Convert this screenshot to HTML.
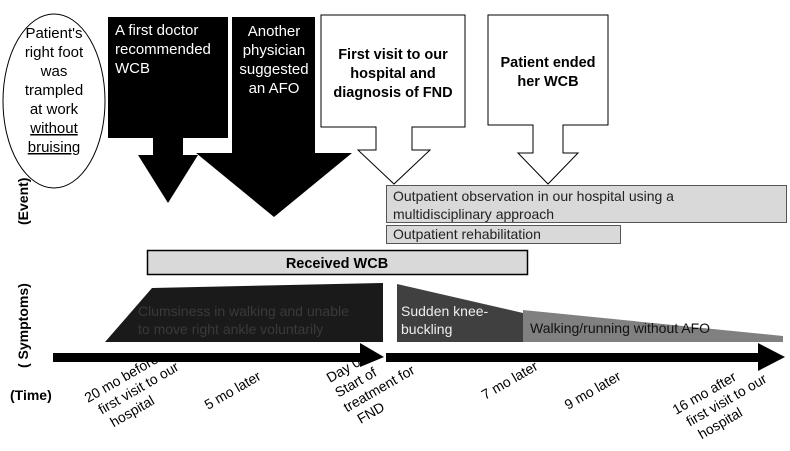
<!DOCTYPE html>
<html><head><meta charset="utf-8"><style>
body{margin:0;background:#fff}
svg{display:block;font-family:"Liberation Sans","Noto Sans CJK JP",sans-serif}
</style></head><body>
<svg width="790" height="451" viewBox="0 0 790 451" xmlns="http://www.w3.org/2000/svg">
<!-- ellipse -->
<ellipse cx="54" cy="101" rx="51" ry="87" fill="#fff" stroke="#000" stroke-width="1"/>
<g font-size="15" text-anchor="middle" fill="#000">
<text x="54" y="38">Patient's</text>
<text x="54" y="57">right foot</text>
<text x="54" y="76">was</text>
<text x="54" y="95">trampled</text>
<text x="54" y="114">at work</text>
<text x="54" y="133" text-decoration="underline">without</text>
<text x="54" y="152" text-decoration="underline">bruising</text>
</g>
<!-- black arrow 1 -->
<polygon points="108,17 228,17 228,138 183,138 183,155 198,155 168,203 138,155 153,155 153,138 108,138" fill="#000"/>
<g font-size="15" fill="#fff">
<text x="115" y="35">A first doctor</text>
<text x="115" y="54">recommended</text>
<text x="115" y="73">WCB</text>
</g>
<!-- black arrow 2 -->
<polygon points="232,17 315,17 315,153 352,153 274,217 196,153 232,153" fill="#000"/>
<g font-size="15" fill="#fff" text-anchor="middle">
<text x="274" y="36">Another</text>
<text x="274" y="55">physician</text>
<text x="274" y="74">suggested</text>
<text x="274" y="93">an AFO</text>
</g>
<!-- callout 1 -->
<polygon points="321,15 465,15 465,127 412,127 412,150 430,150 394,184 358,150 376,150 376,127 321,127" fill="#fff" stroke="#000" stroke-width="1"/>
<g font-size="14.5" font-weight="bold" text-anchor="middle">
<text x="393" y="59">First visit to our</text>
<text x="393" y="78">hospital and</text>
<text x="393" y="97">diagnosis of FND</text>
</g>
<!-- callout 2 -->
<polygon points="488,15 608,15 608,125 563,125 563,153 578,153 548,184 518,153 533,153 533,125 488,125" fill="#fff" stroke="#000" stroke-width="1"/>
<g font-size="14.5" font-weight="bold" text-anchor="middle">
<text x="548" y="67">Patient ended</text>
<text x="548" y="86">her WCB</text>
</g>
<!-- outpatient boxes -->
<rect x="386.5" y="185.5" width="400" height="37" fill="#d9d9d9" stroke="#555" stroke-width="1"/>
<text x="393" y="201" font-size="14" fill="#222">Outpatient observation in our hospital using a</text>
<text x="393" y="219" font-size="14" fill="#222">multidisciplinary approach</text>
<rect x="386.5" y="225.5" width="234" height="18" fill="#d9d9d9" stroke="#555" stroke-width="1"/>
<text x="393" y="239" font-size="14" fill="#222">Outpatient rehabilitation</text>
<!-- received WCB -->
<rect x="147.5" y="250.5" width="380" height="24" fill="#d9d9d9" stroke="#000" stroke-width="1.5"/>
<text x="337" y="268" font-size="14.5" font-weight="bold" text-anchor="middle">Received WCB</text>
<!-- symptoms -->
<polygon points="105,342 152,288 383,283 383,342" fill="#1a1a1a"/>
<g font-size="14" fill="#3a3a3a">
<text x="138" y="316">Clumsiness in walking and unable</text>
<text x="138" y="334">to move right ankle voluntarily</text>
</g>
<polygon points="397,284 523,313 523,342 397,342" fill="#404040"/>
<g font-size="14" fill="#eee">
<text x="401" y="316">Sudden knee-</text>
<text x="401" y="334">buckling</text>
</g>
<polygon points="523,310 783,336 783,342 523,342" fill="#808080"/>
<text x="530" y="333" font-size="14" fill="#111">Walking/running without AFO</text>
<!-- time arrows -->
<polygon points="53,353 360,353 360,343 384,357 360,367 360,362 53,362" fill="#000"/>
<polygon points="386,353 758,353 758,343 785,357 758,371 758,362 386,362" fill="#000"/>
<!-- axis labels -->
<text transform="translate(28,225) rotate(-90)" font-size="14" font-weight="bold">(Event)</text>
<text transform="translate(28,368) rotate(-90)" font-size="14" font-weight="bold">( Symptoms)</text>
<text x="10" y="400" font-size="14" font-weight="bold">(Time)</text>
<!-- time labels -->
<g font-size="14" fill="#000">
<g transform="translate(88,403) rotate(-30)"><text x="0" y="0">20 mo before</text><text x="6" y="17">first visit to our</text><text x="10" y="34">hospital</text></g>
<g transform="translate(208,410) rotate(-30)"><text>5 mo later</text></g>
<g transform="translate(330,383) rotate(-30)"><text x="0" y="0">Day 0</text><text x="0" y="17">Start of</text><text x="0" y="34">treatment for</text><text x="6" y="51">FND</text></g>
<g transform="translate(485,400) rotate(-30)"><text>7 mo later</text></g>
<g transform="translate(568,410) rotate(-30)"><text>9 mo later</text></g>
<g transform="translate(676,415) rotate(-30)"><text x="0" y="0">16 mo after</text><text x="6" y="17">first visit to our</text><text x="10" y="34">hospital</text></g>
</g>
</svg>
</body></html>
